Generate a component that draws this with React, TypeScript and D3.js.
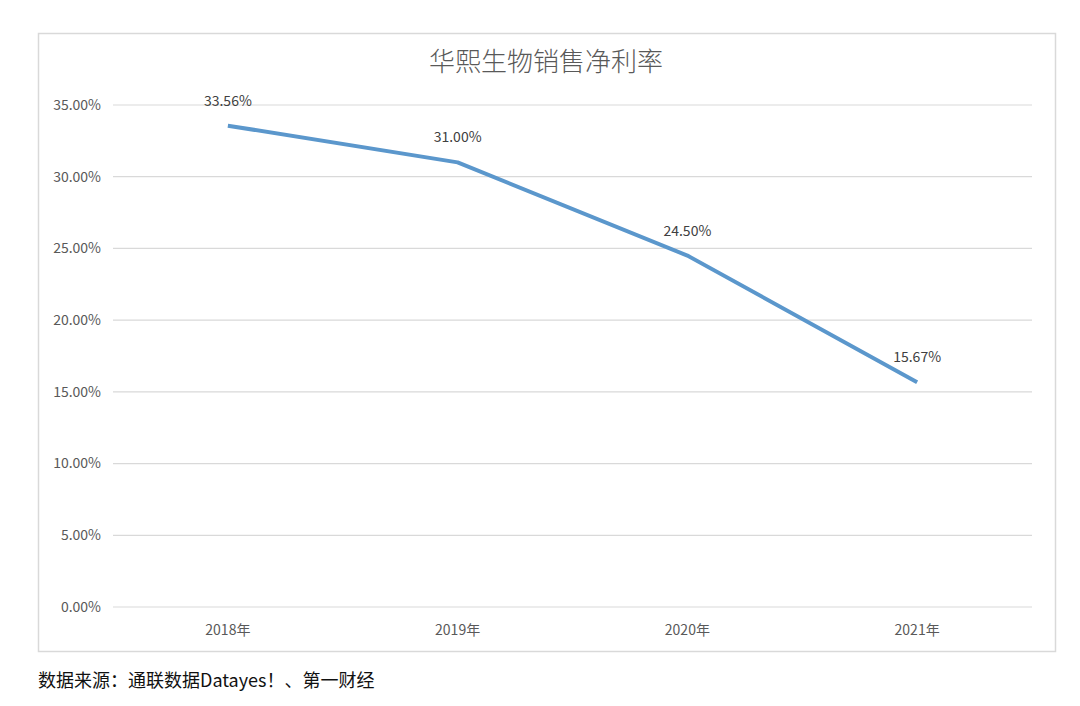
import { useEffect, useRef } from 'react';
import * as d3 from 'd3';

const years = ['2018年', '2019年', '2020年', '2021年'];
const netMargin = [33.56, 31.0, 24.5, 15.67];
const yTicks = [0, 5, 10, 15, 20, 25, 30, 35];

const title = '华熙生物销售净利率';
const source = '数据来源：通联数据Datayes！、第一财经';

const FONT = '"Noto Sans CJK SC", Calibri, "Liberation Sans", sans-serif';

export default function App() {
  const svgRef = useRef<SVGSVGElement>(null);
  const width = 1080;
  const height = 706;

  useEffect(() => {
    if (!svgRef.current) return;
    const svg = d3.select(svgRef.current);
    svg.selectAll('*').remove();

    svg.append('rect').attr('width', width).attr('height', height).attr('fill', '#fff');

    // chart frame
    svg
      .append('rect')
      .attr('x', 38.5)
      .attr('y', 33.5)
      .attr('width', 1017)
      .attr('height', 618)
      .attr('fill', '#fff')
      .attr('stroke', '#d9d9d9')
      .attr('stroke-width', 1.5);

    const left = 113;
    const right = 1032;
    const top = 105;
    const bottom = 607;

    const x = d3.scaleBand<string>().domain(years).range([left, right]);
    const y = d3.scaleLinear().domain([0, 35]).range([bottom, top]);

    // gridlines + y labels
    const grid = svg.append('g');
    yTicks.forEach((t) => {
      grid
        .append('line')
        .attr('x1', left)
        .attr('x2', right)
        .attr('y1', y(t))
        .attr('y2', y(t))
        .attr('stroke', '#d9d9d9')
        .attr('stroke-width', 1.2);
      grid
        .append('text')
        .attr('x', 101)
        .attr('y', y(t))
        .attr('dy', '0.35em')
        .attr('text-anchor', 'end')
        .attr('font-family', FONT)
        .attr('font-size', 14)
        .attr('fill', '#595959')
        .text(`${t.toFixed(2)}%`);
    });

    // x labels
    years.forEach((yr) => {
      svg
        .append('text')
        .attr('x', (x(yr) ?? 0) + x.bandwidth() / 2)
        .attr('y', 630)
        .attr('dy', '0.35em')
        .attr('text-anchor', 'middle')
        .attr('font-family', FONT)
        .attr('font-size', 14)
        .attr('fill', '#595959')
        .text(yr);
    });

    const cx = (i: number) => (x(years[i]) ?? 0) + x.bandwidth() / 2;

    const line = d3
      .line<number>()
      .x((_, i) => cx(i))
      .y((d) => y(d));

    svg
      .append('path')
      .datum(netMargin)
      .attr('fill', 'none')
      .attr('stroke', '#5b97cc')
      .attr('stroke-width', 4)
      .attr('stroke-linejoin', 'round')
      .attr('d', line as never);

    // data labels
    netMargin.forEach((v, i) => {
      svg
        .append('text')
        .attr('x', cx(i))
        .attr('y', y(v) - 25)
        .attr('dy', '0.35em')
        .attr('text-anchor', 'middle')
        .attr('font-family', FONT)
        .attr('font-size', 14)
        .attr('fill', '#404040')
        .text(`${v.toFixed(2)}%`);
    });

    // title
    svg
      .append('text')
      .attr('x', 546)
      .attr('y', 62)
      .attr('dy', '0.35em')
      .attr('text-anchor', 'middle')
      .attr('font-family', FONT)
      .attr('font-weight', 300)
      .attr('font-size', 26)
      .attr('fill', '#595959')
      .text(title);

    // source note
    svg
      .append('text')
      .attr('x', 38)
      .attr('y', 681)
      .attr('dy', '0.35em')
      .attr('font-family', '"Noto Sans CJK SC", serif')
      .attr('font-size', 18)
      .attr('fill', '#111')
      .text(source);
  }, []);

  return (
    <svg
      ref={svgRef}
      width={width}
      height={height}
      style={{ position: 'absolute', left: 0, top: 0, display: 'block' }}
    />
  );
}
